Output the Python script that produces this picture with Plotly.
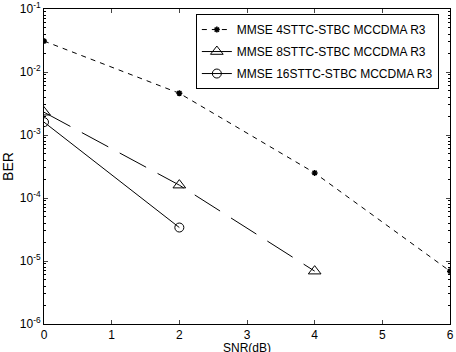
import plotly.graph_objects as go

snr = [0, 2, 4, 6]
ber_4sttc = [0.031, 0.0046, 2.5e-4, 6.9e-6]
snr_8 = [0, 2, 4]
ber_8sttc = [2.3e-3, 1.6e-4, 6.9e-6]
snr_16 = [0, 2]
ber_16sttc = [1.6e-3, 3.4e-5]

names = ["MMSE 4STTC-STBC MCCDMA R3", "MMSE 8STTC-STBC MCCDMA R3", "MMSE 16STTC-STBC MCCDMA R3"]
ytickvals = [1e-6, 1e-5, 1e-4, 1e-3, 1e-2, 1e-1]
yticktext = ["10<sup>-6</sup>", "10<sup>-5</sup>", "10<sup>-4</sup>", "10<sup>-3</sup>", "10<sup>-2</sup>", "10<sup>-1</sup>"]
xtickvals = [0, 1, 2, 3, 4, 5, 6]
xlabel = "SNR(dB)"
ylabel = "BER"

fig = go.Figure()
fig.add_trace(go.Scatter(x=snr, y=ber_4sttc, name=names[0], mode="lines+markers",
                         line=dict(color="black", width=1, dash="5px,5px"),
                         marker=dict(symbol="asterisk", size=5, color="black", line=dict(width=1.5, color="black")),
                         legendgroup="a"))
fig.add_trace(go.Scatter(x=snr_8, y=ber_8sttc, name=names[1], mode="lines+markers",
                         line=dict(color="black", width=1, dash="30px,13px"),
                         marker=dict(symbol="triangle-up-open", size=11, color="black", line=dict(width=1)),
                         legendgroup="b"))
fig.add_trace(go.Scatter(x=snr_16, y=ber_16sttc, name=names[2], mode="lines+markers",
                         line=dict(color="black", width=1),
                         marker=dict(symbol="circle-open", size=9, color="black", line=dict(width=1)),
                         legendgroup="c"))

fig.add_annotation(text=xlabel, xref="paper", yref="paper", x=0.5, y=-23.5 / 315,
                   xanchor="center", yanchor="middle", showarrow=False,
                   font=dict(size=12, color="black"))

fig.update_layout(
    width=456, height=352,
    margin=dict(l=44, r=6, t=9, b=28),
    paper_bgcolor="white", plot_bgcolor="white",
    font=dict(family="Liberation Sans, Arial", size=12, color="black"),
    showlegend=True,
    legend=dict(x=0.374, y=0.984, xanchor="left", yanchor="top",
                bordercolor="black", borderwidth=1, bgcolor="white",
                tracegroupgap=3, font=dict(size=12)),
    xaxis=dict(range=[0, 6], tickvals=xtickvals, ticks="inside", ticklen=4,
               showline=True, linecolor="black", linewidth=1, mirror="allticks",
               showgrid=False, zeroline=False, automargin=False),
    yaxis=dict(type="log", range=[-6, -1], tickvals=ytickvals, ticktext=yticktext,
               ticks="inside", ticklen=4,
               showline=True, linecolor="black", linewidth=1, mirror="allticks",
               showgrid=False, zeroline=False, automargin=False,
               minor=dict(ticks="inside", ticklen=2, tickcolor="black", showgrid=False,
                          tickvals=[m * 10 ** e for e in range(-6, -1) for m in range(2, 10)]),
               title=dict(text=ylabel, standoff=6)),
)
fig.write_html("out.html")
